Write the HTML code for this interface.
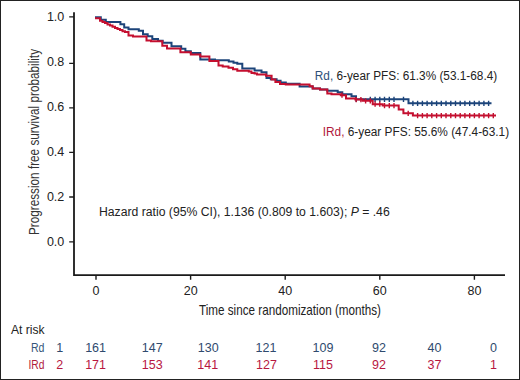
<!DOCTYPE html>
<html><head><meta charset="utf-8"><style>
html,body{margin:0;padding:0;background:#fff;}
body{width:520px;height:380px;overflow:hidden;}
svg{display:block;}
text{font-family:"Liberation Sans",sans-serif;}
</style></head><body>
<svg width="520" height="380" viewBox="0 0 520 380">
<rect x="0.5" y="0.5" width="519" height="379" fill="#fff" stroke="#222" stroke-width="1"/>
<g stroke="#1a1a1a" stroke-width="1.6" fill="none">
<path d="M74,12.3V275.2H505" stroke-width="1.8"/>
<path d="M69.2,16.9H74M69.2,63.4H74M69.2,107.9H74M69.2,152.4H74M69.2,197H74M69.2,241.9H74" stroke-width="1.4"/>
<path d="M96,275.5V279.8M190.6,275.5V279.8M285.2,275.5V279.8M379.8,275.5V279.8M474.4,275.5V279.8" stroke-width="1.4"/>
</g>
<g font-size="12.5" fill="#222" text-anchor="end">
<text x="64.3" y="20.8">1.0</text>
<text x="64.3" y="65.8">0.8</text>
<text x="64.3" y="110.6">0.6</text>
<text x="64.3" y="155.8">0.4</text>
<text x="64.3" y="200.8">0.2</text>
<text x="64.3" y="245.9">0.0</text>
</g>
<g font-size="12.5" fill="#222" text-anchor="middle">
<text x="96" y="294.6">0</text>
<text x="190.7" y="294.6">20</text>
<text x="285.2" y="294.6">40</text>
<text x="379.8" y="294.6">60</text>
<text x="474.4" y="294.6">80</text>
</g>
<text x="199" y="314.8" font-size="15" fill="#222" textLength="182" lengthAdjust="spacingAndGlyphs">Time since randomization (months)</text>
<text transform="translate(38.6,235) rotate(-90)" font-size="14" fill="#333" textLength="186" lengthAdjust="spacingAndGlyphs">Progression free survival probability</text>
<path d="M95,17.2H100.8V19.7H105.8V22H120.4V24.2H124.2V27.4H128.5V29.3H138.8V30.8H143V34.3H147.7V36.2H152.3V39H158V40.8H162.7V42.7H171.5V46.2H181.2V48.8H185.4V51.2H190.8V53H200.3V59.5H215V60.2H228.8V61.5H233.5V62.8H237.3V63.8H242.3V68.5H254.6V70.5H261.5V72.3H266.5V78H270.8V79.2H276.6V80.7H280.6V82.4H285.8V83.8H299.6V86.6H312.7V88.5H320V89.6H327.3V90.8H337.7V92.3H342.3V94.2H351.5V96.2H356V99.3H408.5V103.3H491.5" fill="none" stroke="#1c447a" stroke-width="2"/>
<path d="M356.2,96.7V101.9M370.3,96.7V101.9M375.1,96.7V101.9M379.8,96.7V101.9M384.5,96.7V101.9M389.3,96.7V101.9M394.0,96.7V101.9M403.5,96.7V101.9M412.9,100.7V105.9M417.6,100.7V105.9M422.4,100.7V105.9M427.1,100.7V105.9M431.8,100.7V105.9M436.6,100.7V105.9M441.3,100.7V105.9M446.0,100.7V105.9M450.8,100.7V105.9M455.5,100.7V105.9M460.2,100.7V105.9M464.9,100.7V105.9M469.7,100.7V105.9M474.4,100.7V105.9M479.1,100.7V105.9M483.9,100.7V105.9M488.6,100.7V105.9" fill="none" stroke="#1c447a" stroke-width="1.4"/>
<path d="M95,18.2H100V20.8H102.5V22H105V23H107.5V24.5H110V25.5H112.5V26.8H115V28H117.5V29H120V30H122.5V31.2H125V32H128.5V35.5H133V36.4H146.5V40.5H151V41.2H162.3V45.8H167V48.5H180.4V52.3H190.8V54.6H200.3V56.5H209.4V61H218.5V65.4H222.7V66.5H228.5V67.7H233V69.2H237.3V70.8H248.8V71.5H251.5V73H254.6V73.5H257V74.6H266V75.8H271.6V79.5H275.4V82.1H280V83.9H285.8V84.4H309.6V86.2H312.7V88.5H320V89.6H327.3V93.5H331.5V94.2H340.8V95.2H346V98.5H355.4V99.6H362.7V100.8H372.7V104.2H382.7V105.6H398.7V109.4H403.4V113.3H412.9V115.6H496" fill="none" stroke="#c40f2f" stroke-width="2"/>
<path d="M342.0,92.6V97.8M356.2,97.0V102.2M360.9,97.0V102.2M365.6,98.2V103.4M370.3,98.2V103.4M375.1,101.6V106.8M379.8,101.6V106.8M384.5,103.0V108.2M389.3,103.0V108.2M394.0,103.0V108.2M408.2,110.7V115.9M417.6,113.0V118.2M422.4,113.0V118.2M427.1,113.0V118.2M431.8,113.0V118.2M436.6,113.0V118.2M441.3,113.0V118.2M446.0,113.0V118.2M450.8,113.0V118.2M455.5,113.0V118.2M460.2,113.0V118.2M464.9,113.0V118.2M469.7,113.0V118.2M474.4,113.0V118.2M479.1,113.0V118.2M483.9,113.0V118.2M488.6,113.0V118.2M493.3,113.0V118.2" fill="none" stroke="#c40f2f" stroke-width="1.4"/>
<g font-size="12.5" fill="#222">
<text x="314.8" y="79.8" textLength="182.4" lengthAdjust="spacingAndGlyphs"><tspan fill="#2d4f78">Rd,</tspan> 6-year PFS: 61.3% (53.1-68.4)</text>
<text x="322.7" y="136.2" textLength="186.4" lengthAdjust="spacingAndGlyphs"><tspan fill="#b0173a">IRd,</tspan> 6-year PFS: 55.6% (47.4-63.1)</text>
<text x="99" y="216" textLength="290.7" lengthAdjust="spacingAndGlyphs">Hazard ratio (95% CI), 1.136 (0.809 to 1.603); <tspan font-style="italic">P</tspan> = .46</text>
<text x="11" y="333.8" textLength="33.5" lengthAdjust="spacingAndGlyphs">At risk</text>
</g>
<g font-size="12.5" text-anchor="end">
<text x="44.5" y="352" fill="#34567a" textLength="13.5" lengthAdjust="spacingAndGlyphs">Rd</text>
<text x="44.5" y="369.4" fill="#b01a3a" textLength="16" lengthAdjust="spacingAndGlyphs">IRd</text>
</g>
<g font-size="12.5" text-anchor="middle" fill="#2f4a6e">
<text x="59.8" y="352">1</text>
<text x="95.6" y="352">161</text>
<text x="152.2" y="352">147</text>
<text x="208.2" y="352">130</text>
<text x="266" y="352">121</text>
<text x="323" y="352">109</text>
<text x="379" y="352">92</text>
<text x="434.5" y="352">40</text>
<text x="493.5" y="352">0</text>
</g>
<g font-size="12.5" text-anchor="middle" fill="#b8173f">
<text x="59.8" y="369.4">2</text>
<text x="95.6" y="369.4">171</text>
<text x="152.2" y="369.4">153</text>
<text x="207.8" y="369.4">141</text>
<text x="266.5" y="369.4">127</text>
<text x="323" y="369.4">115</text>
<text x="379" y="369.4">92</text>
<text x="434.5" y="369.4">37</text>
<text x="493.5" y="369.4">1</text>
</g>
</svg>
</body></html>
